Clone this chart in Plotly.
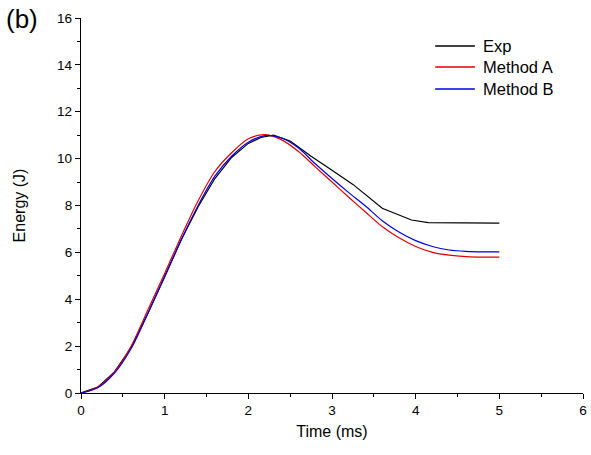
import plotly.graph_objects as go

t_exp = [0, 0.2, 0.4, 0.6, 0.8, 1.0, 1.2, 1.4, 1.6, 1.8, 2.0, 2.15, 2.3, 2.5, 2.75, 3.0, 3.25, 3.6, 3.95, 4.15, 4.5, 5.0]
e_exp = [0, 0.25, 0.9, 1.95, 3.4, 4.95, 6.55, 7.95, 9.15, 10.05, 10.65, 10.9, 11.0, 10.75, 10.1, 9.5, 8.9, 7.88, 7.38, 7.27, 7.27, 7.25]

t_mod = [0, 0.2, 0.4, 0.6, 0.8, 1.0, 1.2, 1.4, 1.6, 1.8, 2.0, 2.2, 2.4, 2.6, 2.8, 3.0, 3.2, 3.4, 3.6, 3.8, 4.0, 4.2, 4.4, 4.6, 4.8, 5.0]
e_a = [0, 0.25, 0.9, 2.0, 3.55, 5.1, 6.7, 8.2, 9.45, 10.25, 10.85, 11.02, 10.8, 10.3, 9.65, 9.0, 8.35, 7.72, 7.1, 6.62, 6.25, 6.0, 5.88, 5.82, 5.8, 5.8]
e_b = [0, 0.22, 0.85, 1.9, 3.4, 4.95, 6.55, 8.0, 9.25, 10.1, 10.7, 10.98, 10.88, 10.45, 9.78, 9.15, 8.55, 7.98, 7.35, 6.87, 6.5, 6.25, 6.1, 6.04, 6.02, 6.02]

names = ["Exp", "Method A", "Method B"]
colors = ["#000000", "#e00000", "#0000e0"]

fig = go.Figure()
fig.add_trace(go.Scatter(x=t_exp, y=e_exp, mode="lines", name=names[0],
                         line=dict(color=colors[0], width=1.2)))
fig.add_trace(go.Scatter(x=t_mod, y=e_a, mode="lines", name=names[1],
                         line=dict(color=colors[1], width=1.2, shape="spline", smoothing=0.8)))
fig.add_trace(go.Scatter(x=t_mod, y=e_b, mode="lines", name=names[2],
                         line=dict(color=colors[2], width=1.2, shape="spline", smoothing=0.8)))

axis_common = dict(showline=True, linecolor="black", linewidth=1.3, mirror=False,
                   showgrid=False, zeroline=False, ticks="outside", ticklen=5,
                   tickwidth=1.3, tickcolor="black",
                   tickfont=dict(family="Liberation Sans", size=13.5, color="black"))

fig.update_xaxes(range=[0, 6], dtick=1, tick0=0,
                 minor=dict(ticks="outside", ticklen=3, dtick=0.5, tickwidth=1.3, tickcolor="black"),
                 title=dict(text="Time (ms)", font=dict(family="Liberation Sans", size=16, color="black"), standoff=8),
                 **axis_common)
fig.update_yaxes(range=[0, 16], dtick=2, tick0=0,
                 minor=dict(ticks="outside", ticklen=3, dtick=1, tickwidth=1.3, tickcolor="black"),
                 title=dict(text="Energy (J)", font=dict(family="Liberation Sans", size=16, color="black"), standoff=27),
                 **axis_common)

# pixel -> paper helpers (plot area: x 81..587, y 18..393)
def px(xp):
    return (xp - 81) / 506

def py(yp):
    return (393 - yp) / 375

shapes = []
annotations = [dict(text="(b)", x=px(3), y=py(2), xref="paper", yref="paper",
                    showarrow=False, xanchor="left", yanchor="top",
                    font=dict(family="Liberation Sans", size=26, color="black"))]
legend_rows = [46, 67, 89]
for name, col, row in zip(names, colors, legend_rows):
    shapes.append(dict(type="line", xref="paper", yref="paper",
                       x0=px(438), x1=px(478), y0=py(row), y1=py(row),
                       line=dict(color=col, width=1.3)))
    annotations.append(dict(text=name, x=px(484), y=py(row), xref="paper", yref="paper",
                            showarrow=False, xanchor="left", yanchor="middle",
                            font=dict(family="Liberation Sans", size=16.5, color="black")))

fig.update_layout(
    width=591, height=455,
    margin=dict(l=81, r=4, t=18, b=62),
    plot_bgcolor="white", paper_bgcolor="white",
    font=dict(family="Liberation Sans", color="black"),
    showlegend=False,
    shapes=shapes,
    annotations=annotations,
)

fig.write_html("out.html")
